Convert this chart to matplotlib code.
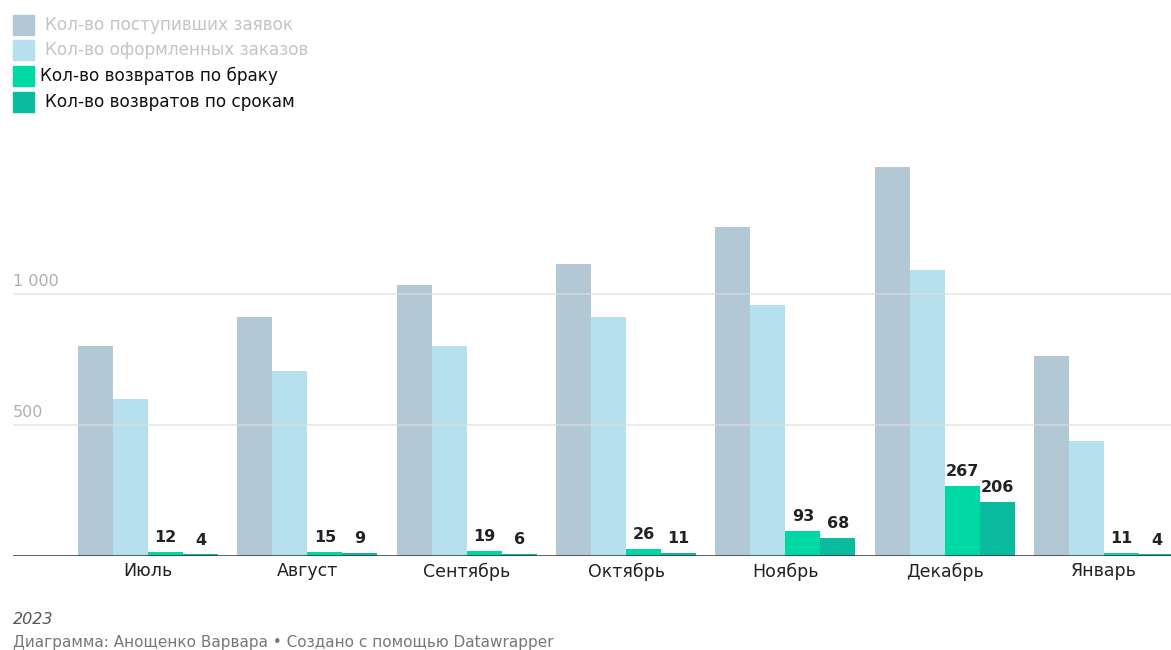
import matplotlib.pyplot as plt
import numpy as np

plt.rcParams['font.family'] = ['DejaVu Sans']

# data
months = ['Июль', 'Август', 'Сентябрь', 'Октябрь', 'Ноябрь', 'Декабрь', 'Январь']
requests = [800, 912, 1035, 1117, 1258, 1486, 762]
orders = [600, 707, 800, 912, 960, 1092, 438]
defect_returns = [12, 15, 19, 26, 93, 267, 11]
late_returns = [4, 9, 6, 11, 68, 206, 4]

series_names = ['Кол-во поступивших заявок', 'Кол-во оформленных заказов',
                'Кол-во возвратов по браку', 'Кол-во возвратов по срокам']
colors = ['#b2c8d4', '#b6e0ee', '#00d9a4', '#0bbb9f']
label_colors = ['#c4c4c4', '#c4c4c4', '#111111', '#111111']

fig = plt.figure(figsize=(11.71, 6.5), dpi=100)
ax = fig.add_axes([13 / 1171, 94.5 / 650, 1 - 13 / 1171, 425.5 / 650])

x = np.arange(len(months))
w = 35 / 159.3
offsets = [-1.5 * w, -0.5 * w, 0.5 * w, 1.5 * w]
all_series = [requests, orders, defect_returns, late_returns]

for vals, off, c in zip(all_series, offsets, colors):
    ax.bar(x + off, vals, width=w, color=c, zorder=2)

# value labels only for returns
for vals, off in zip(all_series[2:], offsets[2:]):
    for xi, v in zip(x, vals):
        ax.annotate(str(v), (xi + off, v), xytext=(0, 5), textcoords='offset points',
                    ha='center', va='bottom', fontsize=11.5, fontweight='bold',
                    color='#222222', zorder=4)

ax.set_xlim(-0.847, 6.42)
ax.set_ylim(0, 425.5 / 0.2613)

# grid drawn over the bars, faint
for gv, lab in [(500, '500'), (1000, '1 000')]:
    ax.axhline(gv, color='#dddddd', lw=1.2, alpha=0.7, zorder=3)
    ax.text(-0.847, gv + 20, lab, ha='left', va='bottom', fontsize=11.5,
            color='#b0b0b0')

ax.axhline(0, color='#333333', lw=1.8, zorder=5)

ax.set_yticks([])
ax.set_xticks(x)
ax.set_xticklabels(months, fontsize=12.5, color='#222222')
ax.tick_params(axis='x', length=0, pad=5)
for s in ax.spines.values():
    s.set_visible(False)

# legend built by hand, like datawrapper
leg_y = [25, 50, 76, 102]
leg_tx = [45, 45, 40, 45]
for name, c, lc, yy, tx in zip(series_names, colors, label_colors, leg_y, leg_tx):
    fig.patches.append(plt.Rectangle((13 / 1171, 1 - (yy + 10) / 650), 21 / 1171, 20 / 650,
                                     transform=fig.transFigure, color=c, figure=fig))
    fig.text(tx / 1171, 1 - yy / 650, name, ha='left', va='center',
             fontsize=12.2, color=lc)

fig.text(13 / 1171, 1 - 619 / 650, '2023', ha='left', va='center',
         fontsize=11.5, style='italic', color='#555555')
fig.text(13 / 1171, 1 - 642 / 650,
         'Диаграмма: Анощенко Варвара • Создано с помощью Datawrapper',
         ha='left', va='center', fontsize=11, color='#777777')

fig.savefig('out.png', dpi=100)
